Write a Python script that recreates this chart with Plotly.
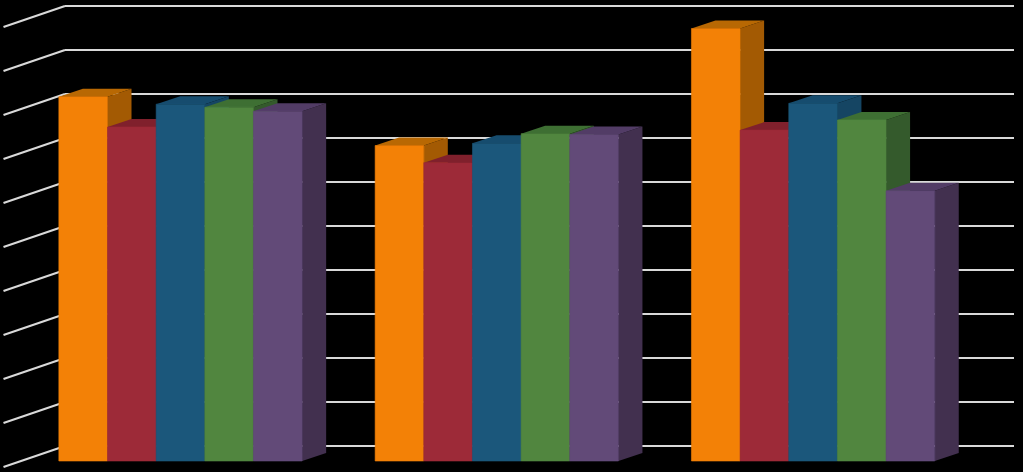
import plotly.graph_objects as go

categories = [0, 1, 2]
series_names = ["Series 1", "Series 2", "Series 3", "Series 4", "Series 5"]
orange_values = [82.8, 71.7, 98.3]
red_values = [75.9, 67.8, 75.2]
blue_values = [81.1, 72.2, 81.3]
green_values = [80.4, 74.4, 77.5]
purple_values = [79.5, 74.2, 61.4]
grid_ticks = [0, 10, 20, 30, 40, 50, 60, 70, 80, 90, 100]

series = [orange_values, red_values, blue_values, green_values, purple_values]
front_colors = ["#F38106", "#9D2A38", "#1B577B", "#51863F", "#624A78"]
side_colors = ["#A35A03", "#7A1F2B", "#154563", "#345A2C", "#42304F"]
top_colors = ["#B86803", "#80202C", "#164C6E", "#3E6F33", "#523C66"]

W, H = 1023, 472
CAT_PX = 316.3
ZERO_PX = 180.5
BASE_PX = 461
UNIT_PX = 4.4
GROUP_FRAC = 243.3 / CAT_PX
BAR_W = GROUP_FRAC / 5
DX = 24 / CAT_PX
DY = 8 / UNIT_PX
WALL_DY = 15 / UNIT_PX
WALL_L = (65 - ZERO_PX) / CAT_PX
WALL_R = (1014 - ZERO_PX) / CAT_PX
FLOOR_L = (3.5 - ZERO_PX) / CAT_PX
DIAG_DY = 21 / UNIT_PX
GRID_COLOR = "#D9D9D9"


def poly(points):
    return "M " + " L ".join(f"{x:.5f},{y:.4f}" for x, y in points) + " Z"


shapes = []
for t in grid_ticks:
    y = t + WALL_DY
    shapes.append(dict(type="line", xref="x", yref="y", layer="below", x0=WALL_L, x1=WALL_R, y0=y, y1=y,
                       line=dict(color=GRID_COLOR, width=2)))
    shapes.append(dict(type="line", xref="x", yref="y", layer="below", x0=FLOOR_L, x1=WALL_L, y0=y - DIAG_DY, y1=y,
                       line=dict(color=GRID_COLOR, width=2.2)))

for c_i, cat in enumerate(categories):
    for s_i, values in enumerate(series):
        v = values[c_i]
        x0 = cat - GROUP_FRAC / 2 + s_i * BAR_W
        x1 = x0 + BAR_W
        side = [(x1, 0), (x1 + DX, DY), (x1 + DX, v + DY), (x1, v)]
        top = [(x0, v), (x0 + DX, v + DY), (x1 + DX, v + DY), (x1, v)]
        shapes.append(dict(type="path", xref="x", yref="y", layer="below", path=poly(side),
                           fillcolor=side_colors[s_i], line=dict(width=0)))
        shapes.append(dict(type="path", xref="x", yref="y", layer="below", path=poly(top),
                           fillcolor=top_colors[s_i], line=dict(width=0)))

fig = go.Figure()
for s_i, values in enumerate(series):
    fig.add_trace(go.Bar(x=categories, y=values, name=series_names[s_i],
                         marker=dict(color=front_colors[s_i], line=dict(width=0.6, color=front_colors[s_i]))))

fig.update_layout(
    width=W, height=H,
    margin=dict(l=0, r=0, t=0, b=0),
    paper_bgcolor="#000000", plot_bgcolor="#000000",
    barmode="group", bargap=1 - GROUP_FRAC, bargroupgap=0,
    showlegend=False, shapes=shapes,
    xaxis=dict(range=[-ZERO_PX / CAT_PX, (W - ZERO_PX) / CAT_PX], visible=False),
    yaxis=dict(range=[(BASE_PX - H) / UNIT_PX, BASE_PX / UNIT_PX], visible=False),
)
fig.write_html("out.html", config=dict(displayModeBar=False),
               post_script="document.body.style.margin='0';document.body.style.background='#000';document.documentElement.style.overflow='hidden';")
